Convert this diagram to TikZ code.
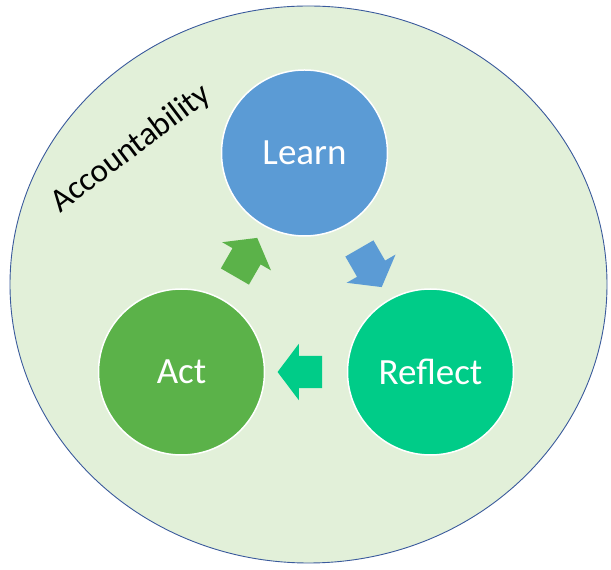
\documentclass[tikz,border=0pt]{standalone}
\usepackage{fontspec}
\setmainfont{Carlito}
\usetikzlibrary{shapes.arrows,shapes.geometric,calc}
\definecolor{bgfill}{HTML}{E2F0D9}
\definecolor{rimblue}{HTML}{3A5A9C}
\definecolor{learnblue}{HTML}{5B9BD5}
\definecolor{actgreen}{HTML}{5BB249}
\definecolor{reflteal}{HTML}{00CC88}
\tikzset{
  phase/.style={circle, draw=white, line width=1.5pt, minimum size=166pt, inner sep=0pt,
    text=white, font=\fontsize{37}{44}\selectfont},
  blockarrow/.style={single arrow, draw=none, minimum height=44pt, inner sep=16pt,
    single arrow head extend=12pt, single arrow tip angle=106, single arrow head indent=0pt},
}
\begin{document}
\begin{tikzpicture}[x=1pt,y=1pt]
\useasboundingbox (0,0) rectangle (611,570);
\node[ellipse, draw=rimblue, line width=0.9pt, fill=bgfill, minimum width=597pt, minimum height=557pt, inner sep=0pt] (acc) at (308.5,285.5) {};
\node[rotate=37, font=\fontsize{33}{38}\selectfont] (acclabel) at (131,421) {Accountability};
\node[phase, fill=learnblue] (learn) at (304.5,417) {Learn};
\node[phase, fill=actgreen] (act) at (181.5,198) {Act};
\node[phase, fill=reflteal] (reflect) at (430.5,198) {Reflect};
\node[blockarrow, fill=learnblue, rotate=-60] (a1) at ($(learn)!0.5!(reflect)$) {};
\node[blockarrow, fill=reflteal, rotate=180] (a2) at ($(reflect)!0.5!(act)$) {};
\node[blockarrow, fill=actgreen, rotate=60] (a3) at ($(act)!0.5!(learn)$) {};
\end{tikzpicture}
\end{document}
